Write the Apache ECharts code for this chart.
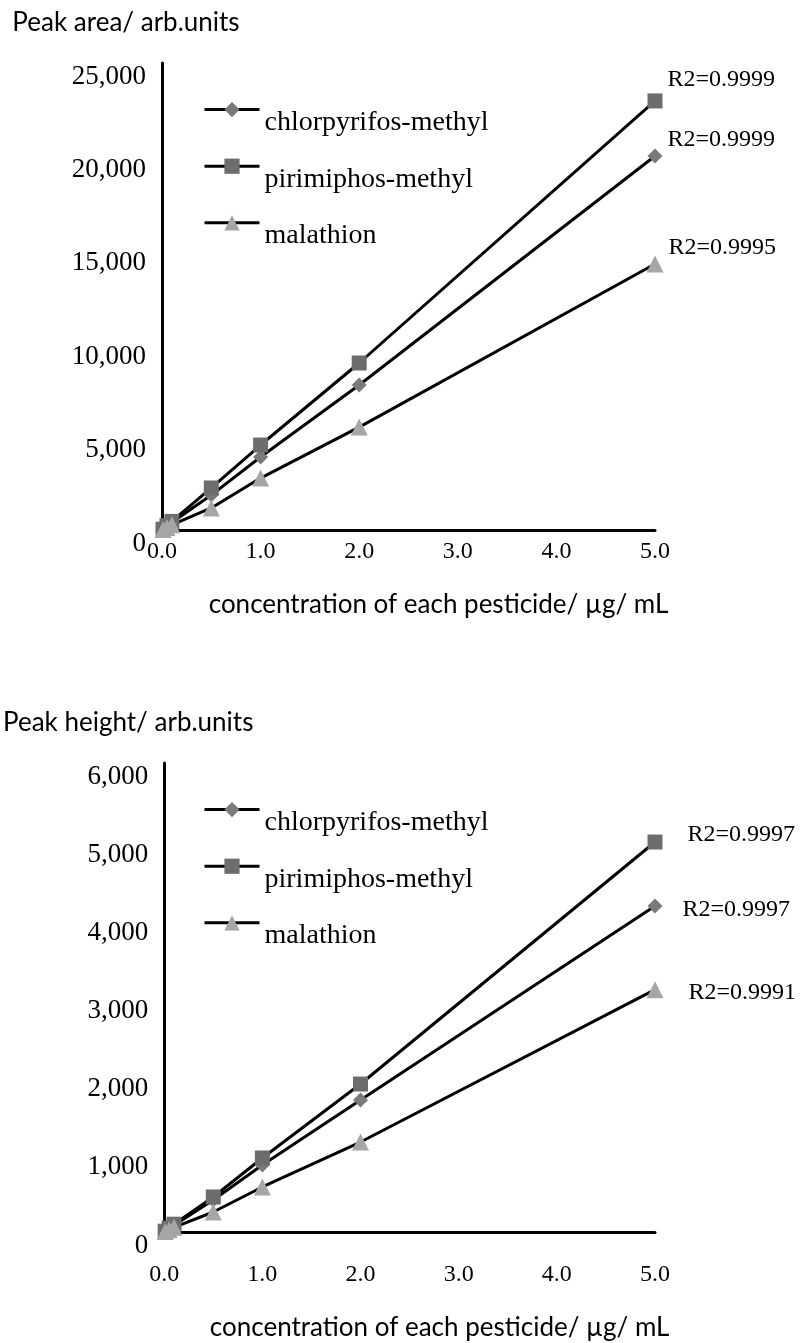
<!DOCTYPE html>
<html><head><meta charset="utf-8">
<script src="https://cdn.jsdelivr.net/npm/echarts@6/dist/echarts.min.js"></script>
<style>html,body{margin:0;padding:0;background:#fff}#c{width:800px;height:1343px}</style>
</head><body><div id="c"></div>
<script>
// ---- data ----
const conc = [0.01, 0.05, 0.1, 0.5, 1, 2, 5];
const seriesNames = ['chlorpyrifos-methyl', 'pirimiphos-methyl', 'malathion'];
// Peak area
const areaChlor = [40, 200, 400, 1870, 3910, 7760, 20020];
const areaPirim = [45, 230, 460, 2250, 4550, 8940, 22970];
const areaMala  = [30, 140, 280, 1180, 2780, 5510, 14240];
const areaR2 = ['R2=0.9999', 'R2=0.9999', 'R2=0.9995'];
// Peak height
const heightChlor = [10, 45, 85, 410, 857, 1689, 4170];
const heightPirim = [10, 50, 100, 448, 947, 1893, 4989];
const heightMala  = [6, 30, 60, 256, 576, 1151, 3100];
const heightR2 = ['R2=0.9997', 'R2=0.9997', 'R2=0.9991'];
const xTicks = [0, 1, 2, 3, 4, 5];

const serif = 'Liberation Serif';
const sans = 'Lato';
const symbols = ['diamond', 'rect', 'triangle'];
const symColors = ['#7a7a7a', '#6d6d6d', '#a6a6a6'];
const symSizes = [15, 15, 17];

function mk(vals, i, gi, r2, labelOffset) {
  return {
    name: seriesNames[i], type: 'line', xAxisIndex: gi, yAxisIndex: gi,
    symbol: symbols[i], symbolSize: symSizes[i],
    itemStyle: {color: symColors[i]},
    lineStyle: {color: '#000', width: 3},
    z: 3,
    data: vals.map((v, k) => {
      const d = {value: [conc[k], v]};
      if (k === vals.length - 1) {
        d.label = {show: true, position: 'right', formatter: r2, offset: labelOffset,
          fontFamily: serif, fontSize: 24, color: '#000'};
      }
      return d;
    })
  };
}

const grids = [
  {left: 162, right: 145, top: 63, bottom: 813},
  {left: 162, right: 145, top: 763, bottom: 111}
];
function xAx(gi, margin) {
  return {
    type: 'value', gridIndex: gi, min: 0, max: 5, interval: 1,
    name: 'concentration of each pesticide/ µg/ mL', nameLocation: 'middle', nameGap: margin + 52,
    nameTextStyle: {fontFamily: sans, fontSize: 26, color: '#000', padding: [0, 0, 0, 60]},
    axisLine: {lineStyle: {color: '#000', width: 3}},
    axisTick: {show: false}, splitLine: {show: false},
    axisLabel: {margin: margin, fontFamily: serif, fontSize: 24, color: '#000',
      formatter: v => xTicks.includes(v) ? v.toFixed(1) : ''}
  };
}
function yAx(gi, max, interval, name) {
  return {
    type: 'value', gridIndex: gi, min: 0, max: max, interval: interval,
    name: name, nameLocation: 'end', nameGap: 27,
    nameTextStyle: {fontFamily: sans, fontSize: 26, color: '#000', padding: [0, 72, 0, 0]},
    axisLine: {show: true, lineStyle: {color: '#000', width: 3}},
    axisTick: {show: false}, splitLine: {show: false},
    axisLabel: {margin: 16, verticalAlign: 'top', fontFamily: serif, fontSize: 27, color: '#000',
      formatter: v => v === 0 ? '0' : v.toLocaleString('en-US')}
  };
}
function lg(top) {
  return {
    orient: 'vertical', left: 203, top: top, padding: 0, itemGap: 22,
    itemWidth: 55, itemHeight: 19, selectedMode: false,
    lineStyle: {width: 3, color: '#000'},
    formatter: '{t|{name}}',
    textStyle: {fontFamily: serif, fontSize: 28, color: '#000',
      rich: {t: {fontFamily: serif, fontSize: 28, color: '#000', padding: [26, 0, 0, 0]}}},
    data: seriesNames
  };
}

const chart = echarts.init(document.getElementById('c'));
chart.setOption({
  backgroundColor: '#fff',
  animation: false,
  grid: grids,
  legend: [lg(102), lg(802)],
  xAxis: [xAx(0, 10), xAx(1, 31)],
  yAxis: [yAx(0, 25000, 5000, 'Peak area/ arb.units'), yAx(1, 6000, 1000, 'Peak height/ arb.units')],
  series: [
    mk(areaChlor, 0, 0, areaR2[0], [0, -16]),
    mk(areaPirim, 1, 0, areaR2[1], [0, -21]),
    mk(areaMala, 2, 0, areaR2[2], [0, -16]),
    mk(heightChlor, 0, 1, heightR2[0], [15, 4]),
    mk(heightPirim, 1, 1, heightR2[1], [20, -7]),
    mk(heightMala, 2, 1, heightR2[2], [20, 3])
  ]
});
</script></body></html>
